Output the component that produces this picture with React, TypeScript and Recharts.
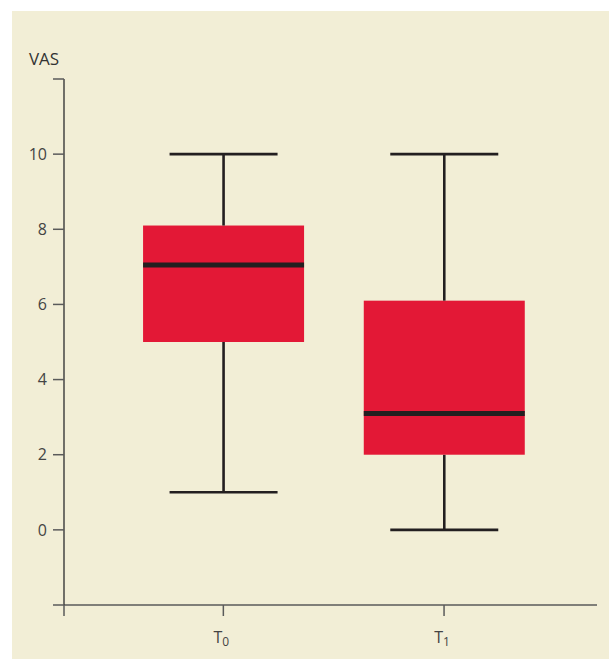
import React from 'react';
import { ComposedChart, Bar, XAxis, YAxis } from 'recharts';

// VAS scores at two time points
const categories = ['T0', 'T1'];
const positions = [0, 1];
const mins = [1, 0];
const q1s = [5, 2];
const medians = [7.05, 3.1];
const q3s = [8.1, 6.1];
const maxs = [10, 10];
const yTicks = [-2, 0, 2, 4, 6, 8, 10, 12];

const data = categories.map((name, i) => ({
  name,
  pos: positions[i],
  base: mins[i],
  lowWhisker: q1s[i] - mins[i],
  lowBox: medians[i] - q1s[i],
  highBox: q3s[i] - medians[i],
  highWhisker: maxs[i] - q3s[i],
}));

const BG = '#f2eed6';
const RED = '#e31836';
const INK = '#231f20';
const AXIS = '#5a5a5a';
const FONT = '"Open Sans", sans-serif';
const BOX_W = 161;
const CAP_W = 108;

const Empty = () => <g />;

const LowWhisker = (props: any) => {
  const { x, y, width, height } = props;
  const cx = x + width / 2;
  return (
    <g>
      <line x1={cx} x2={cx} y1={y} y2={y + height} stroke={INK} strokeWidth={2.6} />
      <line x1={cx - CAP_W / 2} x2={cx + CAP_W / 2} y1={y + height} y2={y + height} stroke={INK} strokeWidth={2.6} />
    </g>
  );
};

const HighWhisker = (props: any) => {
  const { x, y, width, height } = props;
  const cx = x + width / 2;
  return (
    <g>
      <line x1={cx} x2={cx} y1={y} y2={y + height} stroke={INK} strokeWidth={2.6} />
      <line x1={cx - CAP_W / 2} x2={cx + CAP_W / 2} y1={y} y2={y} stroke={INK} strokeWidth={2.6} />
    </g>
  );
};

const LowBox = (props: any) => {
  const { x, y, width, height } = props;
  const cx = x + width / 2;
  return <rect x={cx - BOX_W / 2} y={y} width={BOX_W} height={height} fill={RED} />;
};

const HighBox = (props: any) => {
  const { x, y, width, height } = props;
  const cx = x + width / 2;
  return (
    <g>
      <rect x={cx - BOX_W / 2} y={y} width={BOX_W} height={height} fill={RED} />
      <line x1={cx - BOX_W / 2} x2={cx + BOX_W / 2} y1={y + height} y2={y + height} stroke={INK} strokeWidth={5} />
    </g>
  );
};

const XTick = (props: any) => {
  const { x, y, payload } = props;
  const name = categories[payload.value];
  if (name === undefined) return <g />;
  return (
    <text x={x - 2} y={y} dy={25} textAnchor="middle" fill="#444" fontSize={16} fontFamily={FONT}>
      {name.charAt(0)}
      <tspan fontSize={12} dy={3}>{name.slice(1)}</tspan>
    </text>
  );
};

const App: React.FC = () => {
  return (
    <div style={{ position: 'absolute', left: 12, top: 11, width: 597, height: 648, background: BG }}>
      <ComposedChart
        width={597}
        height={648}
        data={data}
        margin={{ top: 68, right: 12, bottom: 14, left: 12 }}
      >
        <XAxis
          dataKey="pos"
          type="number"
          domain={[-0.722, 1.693]}
          ticks={[-0.722, 0, 1]}
          interval={0}
          height={40}
          tickSize={11}
          tick={<XTick />}
          axisLine={{ stroke: AXIS, strokeWidth: 1.5 }}
          tickLine={{ stroke: AXIS, strokeWidth: 1.5 }}
        />
        <YAxis
          type="number"
          domain={[-2, 12]}
          ticks={yTicks}
          interval={0}
          width={40}
          tickSize={11}
          tickMargin={6}
          tickFormatter={(v: number) => (v < 0 || v > 10 ? '' : String(v))}
          tick={{ fill: '#444', fontSize: 16, fontFamily: FONT }}
          axisLine={{ stroke: '#3a3a3a', strokeWidth: 1.4 }}
          tickLine={{ stroke: AXIS, strokeWidth: 1.5 }}
          label={{ value: 'VAS', position: 'top', offset: 14, fill: '#333', fontSize: 17, fontFamily: FONT }}
        />
        <Bar dataKey="base" stackId="box" shape={<Empty />} isAnimationActive={false} />
        <Bar dataKey="lowWhisker" stackId="box" shape={<LowWhisker />} isAnimationActive={false} />
        <Bar dataKey="lowBox" stackId="box" shape={<LowBox />} isAnimationActive={false} />
        <Bar dataKey="highBox" stackId="box" shape={<HighBox />} isAnimationActive={false} />
        <Bar dataKey="highWhisker" stackId="box" shape={<HighWhisker />} isAnimationActive={false} />
      </ComposedChart>
    </div>
  );
};

export default App;
